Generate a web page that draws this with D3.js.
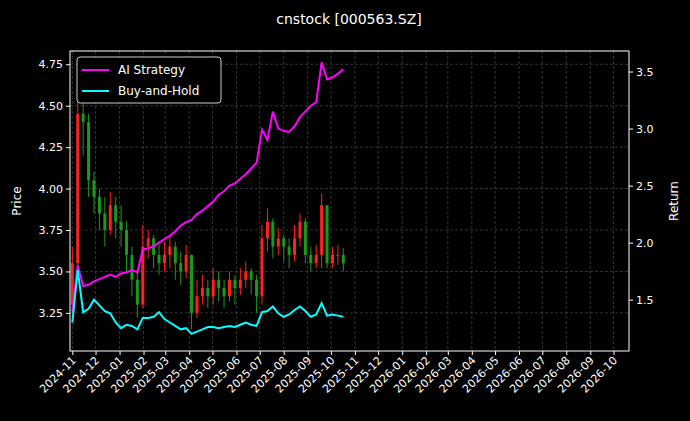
<!DOCTYPE html>
<html>
<head>
<meta charset="utf-8">
<script src="https://cdn.jsdelivr.net/npm/d3@7"></script>
<style>
body { margin: 0; background: #000; }
text { font-family: "DejaVu Sans", sans-serif; fill: #fff; }
.grid line { stroke: #555; stroke-dasharray: 3,2; stroke-width: 0.6px; }
</style>
</head>
<body>
<script>
// weekly samples starting 2024-11-01
var startDate = new Date(2024, 10, 1);
var close = [3.55,4.45,4.40,4.05,3.95,3.85,3.75,3.90,3.80,3.75,3.60,3.45,3.30,3.65,3.70,3.60,3.55,3.60,3.65,3.55,3.50,3.60,3.25,3.35,3.40,3.35,3.45,3.40,3.35,3.45,3.40,3.45,3.50,3.45,3.35,3.70,3.80,3.65,3.70,3.65,3.60,3.70,3.80,3.60,3.55,3.60,3.90,3.55,3.60,3.60,3.55];
var high = [3.65,4.72,4.60,4.45,4.10,4.00,3.95,3.98,3.95,3.90,3.80,3.65,3.50,3.78,3.75,3.72,3.68,3.68,3.72,3.68,3.62,3.66,3.60,3.45,3.48,3.45,3.52,3.50,3.45,3.50,3.48,3.52,3.56,3.52,3.48,3.78,3.88,3.82,3.76,3.72,3.70,3.78,3.85,3.82,3.65,3.66,3.97,3.80,3.65,3.66,3.64];
var low = [3.25,3.50,4.20,3.95,3.85,3.75,3.65,3.72,3.70,3.65,3.50,3.35,3.22,3.28,3.58,3.52,3.48,3.50,3.52,3.45,3.42,3.46,3.15,3.22,3.30,3.28,3.30,3.32,3.28,3.32,3.30,3.36,3.40,3.36,3.25,3.30,3.62,3.58,3.60,3.56,3.52,3.56,3.65,3.55,3.50,3.52,3.52,3.52,3.52,3.54,3.50];
var firstOpen = 3.30;
var strategy = [1.40,1.80,1.62,1.63,1.66,1.68,1.70,1.72,1.70,1.73,1.74,1.76,1.74,1.94,1.95,1.97,2.00,2.03,2.06,2.10,2.15,2.18,2.20,2.25,2.28,2.32,2.36,2.42,2.45,2.50,2.52,2.56,2.60,2.65,2.70,2.99,2.90,3.15,3.00,2.98,2.97,3.02,3.10,3.15,3.20,3.23,3.58,3.43,3.45,3.48,3.52];
var buyHold = [1.30,1.76,1.39,1.42,1.50,1.45,1.40,1.38,1.30,1.25,1.28,1.27,1.24,1.34,1.34,1.35,1.39,1.33,1.30,1.27,1.24,1.25,1.20,1.22,1.24,1.26,1.26,1.25,1.26,1.27,1.26,1.28,1.30,1.28,1.27,1.39,1.40,1.44,1.38,1.35,1.37,1.41,1.44,1.40,1.35,1.37,1.47,1.36,1.37,1.36,1.35];
var priceTicks = [3.25,3.5,3.75,4.0,4.25,4.5,4.75];
var returnTicks = [1.5,2.0,2.5,3.0,3.5];

var W = 690, H = 421,
    pl = 70, pr = 629, pt = 51, pb = 351;

var data = close.map(function(c, i) {
    return {
        date: d3.timeDay.offset(startDate, i * 7),
        open: i ? close[i-1] : firstOpen,
        close: c, high: high[i], low: low[i],
        s: strategy[i], b: buyHold[i]
    };
});

var x = d3.scaleTime().domain([new Date(2024, 9, 29), new Date(2026, 9, 21)]).range([pl, pr]);
var y = d3.scaleLinear().domain([3.02, 4.83]).range([pb, pt]);
var y2 = d3.scaleLinear().domain([1.05, 3.68]).range([pb, pt]);
var months = d3.timeMonth.range(new Date(2024, 10, 1), new Date(2026, 9, 2));

var svg = d3.select('body').append('svg').attr('width', W).attr('height', H);

var grid = svg.append('g').attr('class', 'grid');
grid.selectAll('line.v').data(months).enter().append('line')
    .attr('x1', x).attr('x2', x).attr('y1', pt).attr('y2', pb);
grid.selectAll('line.h').data(priceTicks).enter().append('line')
    .attr('x1', pl).attr('x2', pr).attr('y1', y).attr('y2', y);

// candles
var candles = svg.append('g').selectAll('g').data(data).enter().append('g');
candles.append('line')
    .attr('x1', function(d) { return x(d.date) }).attr('x2', function(d) { return x(d.date) })
    .attr('y1', function(d) { return y(d.high) }).attr('y2', function(d) { return y(d.low) })
    .attr('stroke', function(d) { return d.close >= d.open ? '#ff2020' : '#1a9a1a' })
    .attr('stroke-width', 1);
candles.append('rect')
    .attr('x', function(d) { return x(d.date) - 1.5 }).attr('width', 3)
    .attr('y', function(d) { return y(Math.max(d.open, d.close)) })
    .attr('height', function(d) { return Math.max(1, Math.abs(y(d.open) - y(d.close))) })
    .attr('fill', function(d) { return d.close >= d.open ? '#ff2020' : '#1a9a1a' });

var lineS = d3.line().x(function(d) { return x(d.date) }).y(function(d) { return y2(d.s) });
var lineB = d3.line().x(function(d) { return x(d.date) }).y(function(d) { return y2(d.b) });
svg.append('path').datum(data).attr('d', lineS).attr('fill', 'none').attr('stroke', '#ff00ff').attr('stroke-width', 2);
svg.append('path').datum(data).attr('d', lineB).attr('fill', 'none').attr('stroke', '#00ffff').attr('stroke-width', 2);

// frame
svg.append('rect').attr('x', pl).attr('y', pt).attr('width', pr - pl).attr('height', pb - pt)
    .attr('fill', 'none').attr('stroke', '#fff').attr('stroke-width', 1);

function style(g) {
    g.selectAll('path').remove();
    g.selectAll('line').attr('stroke', '#fff');
    g.selectAll('text').attr('font-size', 11).style('fill', '#fff');
}
svg.append('g').attr('transform', 'translate(' + pl + ',0)')
    .call(d3.axisLeft(y).tickValues(priceTicks).tickFormat(d3.format('.2f')).tickSize(4)).call(style);
svg.append('g').attr('transform', 'translate(' + pr + ',0)')
    .call(d3.axisRight(y2).tickValues(returnTicks).tickFormat(d3.format('.1f')).tickSize(4)).call(style);
var xa = svg.append('g').attr('transform', 'translate(0,' + pb + ')')
    .call(d3.axisBottom(x).tickValues(months).tickFormat(d3.timeFormat('%Y-%m')).tickSize(4)).call(style);
xa.selectAll('text').attr('text-anchor', 'end').attr('dy', 0).attr('dx', 0).attr('y', 0)
    .attr('transform', 'translate(4,10) rotate(-45)');

svg.append('text').attr('x', 349).attr('y', 24).attr('text-anchor', 'middle').attr('font-size', 14).text('cnstock [000563.SZ]');
svg.append('text').attr('transform', 'translate(21,' + (pt + pb) / 2 + ') rotate(-90)')
    .attr('text-anchor', 'middle').attr('font-size', 12).text('Price');
svg.append('text').attr('transform', 'translate(678,' + (pt + pb) / 2 + ') rotate(-90)')
    .attr('text-anchor', 'middle').attr('font-size', 12).text('Return');

// legend
var lg = svg.append('g').attr('transform', 'translate(77,57)');
lg.append('rect').attr('width', 144).attr('height', 46).attr('rx', 3)
    .attr('fill', '#000').attr('stroke', '#ccc').attr('stroke-width', 1);
[['AI Strategy', '#ff00ff'], ['Buy-and-Hold', '#00ffff']].forEach(function(e, i) {
    lg.append('line').attr('x1', 5).attr('x2', 32).attr('y1', 13 + i * 21).attr('y2', 13 + i * 21)
        .attr('stroke', e[1]).attr('stroke-width', 2);
    lg.append('text').attr('x', 41).attr('y', 17 + i * 21).attr('font-size', 12).text(e[0]);
});
</script>
</body>
</html>
